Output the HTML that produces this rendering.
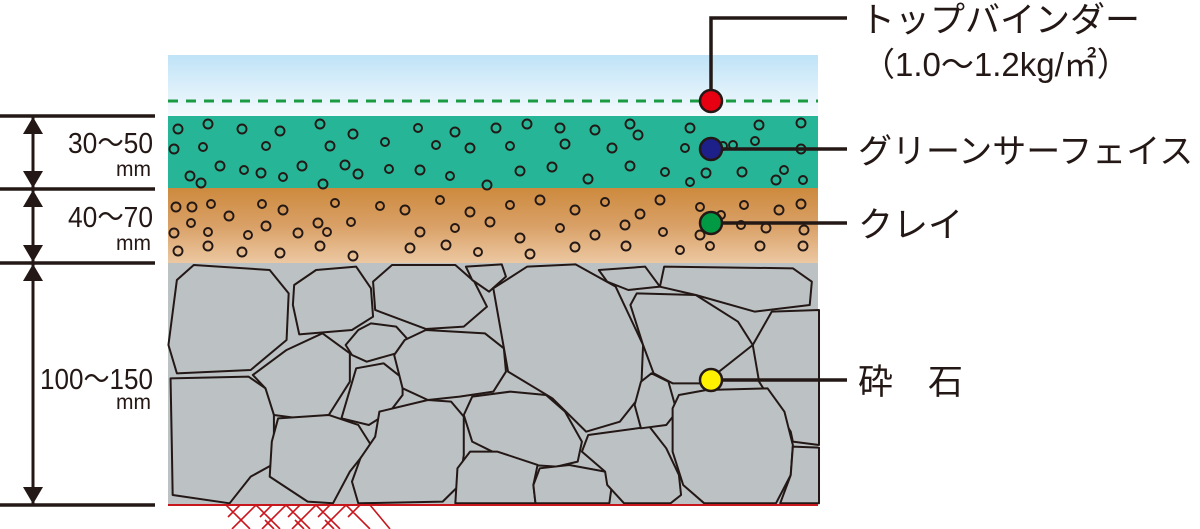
<!DOCTYPE html>
<html><head><meta charset="utf-8"><style>
html,body{margin:0;padding:0;background:#fff;width:1200px;height:529px;overflow:hidden}
svg{display:block}
.j{font-family:"Liberation Sans","Noto Sans CJK JP",sans-serif;fill:#231815}
</style></head><body>
<svg width="1200" height="529" viewBox="0 0 1200 529" xmlns="http://www.w3.org/2000/svg">
<defs>
<linearGradient id="sky" x1="0" y1="0" x2="0" y2="1"><stop offset="0" stop-color="#bfe3f7"/><stop offset="1" stop-color="#f4fafd"/></linearGradient>
<linearGradient id="clay" x1="0" y1="0" x2="0" y2="1"><stop offset="0" stop-color="#cd8a3e"/><stop offset="0.5" stop-color="#d9a066"/><stop offset="1" stop-color="#ecc8a2"/></linearGradient>
</defs>
<rect x="168" y="55" width="650" height="61" fill="url(#sky)"/>
<line x1="168" y1="101" x2="818" y2="101" stroke="#1a9a43" stroke-width="3" stroke-dasharray="10,8"/>
<rect x="168" y="116" width="650" height="72" fill="#26b596"/>
<rect x="168" y="188" width="650" height="75" fill="url(#clay)"/>
<rect x="168" y="263" width="650" height="242" fill="#bcc1c4"/>
<g fill="none" stroke="#231815" stroke-width="1.9">
<circle cx="178" cy="129" r="4.5"/><circle cx="208" cy="124" r="4.5"/><circle cx="242" cy="129" r="4.5"/><circle cx="280" cy="131" r="4.5"/><circle cx="320" cy="124" r="4.5"/><circle cx="353" cy="134" r="4.5"/><circle cx="385" cy="142" r="4"/><circle cx="174" cy="149" r="4.5"/><circle cx="203" cy="147" r="4"/><circle cx="266" cy="146" r="4"/><circle cx="330" cy="146" r="4.5"/><circle cx="389" cy="169" r="4"/><circle cx="220" cy="166" r="4.5"/><circle cx="244" cy="170" r="4"/><circle cx="261" cy="173" r="4.5"/><circle cx="283" cy="177" r="4"/><circle cx="302" cy="166" r="4.5"/><circle cx="345" cy="165" r="4.5"/><circle cx="358" cy="174" r="4.5"/><circle cx="190" cy="176" r="4.5"/><circle cx="201" cy="183" r="4.5"/><circle cx="323" cy="184" r="4.5"/><circle cx="418" cy="128" r="4"/><circle cx="455" cy="132" r="4.5"/><circle cx="496" cy="128" r="4.5"/><circle cx="527" cy="124" r="4.5"/><circle cx="560" cy="128" r="4.5"/><circle cx="595" cy="130" r="4.5"/><circle cx="630" cy="124" r="4.5"/><circle cx="638" cy="135" r="4.5"/><circle cx="690" cy="128" r="4.5"/><circle cx="759" cy="125" r="4.5"/><circle cx="801" cy="123" r="4.5"/><circle cx="436" cy="145" r="4"/><circle cx="470" cy="148" r="4.5"/><circle cx="510" cy="146" r="4"/><circle cx="565" cy="144" r="4.5"/><circle cx="612" cy="148" r="4.5"/><circle cx="685" cy="148" r="4"/><circle cx="733" cy="145" r="4"/><circle cx="755" cy="141" r="4"/><circle cx="801" cy="149" r="4.5"/><circle cx="420" cy="170" r="4.5"/><circle cx="450" cy="176" r="4"/><circle cx="487" cy="185" r="4.5"/><circle cx="520" cy="171" r="4.5"/><circle cx="552" cy="167" r="4.5"/><circle cx="588" cy="179" r="4.5"/><circle cx="630" cy="166" r="4.5"/><circle cx="665" cy="172" r="4"/><circle cx="706" cy="173" r="4.5"/><circle cx="742" cy="172" r="4.5"/><circle cx="784" cy="170" r="4"/><circle cx="723" cy="146" r="4"/><circle cx="776" cy="180" r="4.5"/><circle cx="803" cy="180" r="4"/><circle cx="690" cy="182" r="4"/>
<circle cx="176" cy="207" r="4.5"/><circle cx="192" cy="207" r="4.5"/><circle cx="211" cy="204" r="4"/><circle cx="229" cy="216" r="4.5"/><circle cx="262" cy="204" r="4"/><circle cx="283" cy="210" r="4.5"/><circle cx="335" cy="203" r="4"/><circle cx="351" cy="222" r="4"/><circle cx="174" cy="233" r="4.5"/><circle cx="191" cy="223" r="4"/><circle cx="208" cy="232" r="4"/><circle cx="248" cy="235" r="4"/><circle cx="266" cy="226" r="4.5"/><circle cx="298" cy="233" r="4.5"/><circle cx="318" cy="223" r="4.5"/><circle cx="327" cy="232" r="4"/><circle cx="178" cy="251" r="4.5"/><circle cx="208" cy="246" r="4.5"/><circle cx="242" cy="252" r="4.5"/><circle cx="280" cy="253" r="4.5"/><circle cx="320" cy="246" r="4.5"/><circle cx="353" cy="256" r="4.5"/><circle cx="380" cy="206" r="4"/><circle cx="405" cy="210" r="4.5"/><circle cx="440" cy="200" r="4"/><circle cx="470" cy="212" r="4.5"/><circle cx="510" cy="205" r="4"/><circle cx="540" cy="200" r="4.5"/><circle cx="575" cy="210" r="4.5"/><circle cx="605" cy="202" r="4"/><circle cx="640" cy="214" r="4.5"/><circle cx="660" cy="200" r="4.5"/><circle cx="700" cy="207" r="4"/><circle cx="744" cy="205" r="4"/><circle cx="779" cy="210" r="4.5"/><circle cx="801" cy="204" r="4.5"/><circle cx="420" cy="232" r="4.5"/><circle cx="455" cy="228" r="4"/><circle cx="490" cy="222" r="4.5"/><circle cx="520" cy="238" r="4.5"/><circle cx="560" cy="228" r="4"/><circle cx="595" cy="235" r="4.5"/><circle cx="625" cy="225" r="4.5"/><circle cx="663" cy="232" r="4"/><circle cx="741" cy="225" r="4"/><circle cx="766" cy="228" r="4.5"/><circle cx="804" cy="230" r="4.5"/><circle cx="410" cy="248" r="4.5"/><circle cx="446" cy="245" r="4.5"/><circle cx="478" cy="252" r="4"/><circle cx="530" cy="254" r="4.5"/><circle cx="575" cy="247" r="4.5"/><circle cx="626" cy="246" r="4.5"/><circle cx="680" cy="250" r="4"/><circle cx="710" cy="246" r="4"/><circle cx="760" cy="246" r="4.5"/><circle cx="803" cy="246" r="4.5"/><circle cx="700" cy="235" r="4.5"/><circle cx="721" cy="215" r="4"/>
</g>
<g transform="translate(160,255) scale(0.4219,0.3333)" fill="#bcc1c4" stroke="#231815" stroke-width="2" stroke-linejoin="round">
<polygon vector-effect="non-scaling-stroke" points="40,75 80,30 260,45 305,115 300,255 215,345 40,355 20,270"/>
<polygon vector-effect="non-scaling-stroke" points="318,90 370,45 465,35 500,100 505,185 455,225 330,238 315,150"/>
<polygon vector-effect="non-scaling-stroke" points="505,80 550,30 700,30 745,80 775,155 720,215 630,222 510,165"/>
<polygon vector-effect="non-scaling-stroke" points="725,35 810,28 820,65 780,110 740,75"/>
<polygon vector-effect="non-scaling-stroke" points="790,100 870,35 985,28 1080,95 1145,270 1140,420 1090,500 1010,530 930,430 825,350"/>
<polygon vector-effect="non-scaling-stroke" points="1040,45 1150,35 1185,95 1110,105 1060,80"/>
<polygon vector-effect="non-scaling-stroke" points="1195,35 1500,40 1545,80 1540,150 1410,170 1270,120 1185,95"/>
<polygon vector-effect="non-scaling-stroke" points="1130,115 1270,120 1370,200 1405,270 1290,385 1215,385 1170,355 1145,270 1115,150"/>
<polygon vector-effect="non-scaling-stroke" points="1450,170 1562,165 1562,570 1500,560 1495,530 1420,380 1405,270"/>
<polygon vector-effect="non-scaling-stroke" points="25,370 210,365 250,400 270,460 270,560 265,630 215,665 165,745 30,720 28,570"/>
<polygon vector-effect="non-scaling-stroke" points="220,360 300,285 385,235 450,295 450,380 400,480 330,490 270,480 250,400"/>
<polygon vector-effect="non-scaling-stroke" points="440,270 470,225 500,205 560,215 585,250 560,295 490,320 455,300"/>
<polygon vector-effect="non-scaling-stroke" points="465,340 530,325 575,370 575,420 545,470 495,510 430,490"/>
<polygon vector-effect="non-scaling-stroke" points="580,255 630,225 770,235 815,280 820,350 790,410 710,425 635,435 575,400 555,300"/>
<polygon vector-effect="non-scaling-stroke" points="280,490 400,480 470,510 500,570 450,650 410,745 350,740 260,665 265,560"/>
<polygon vector-effect="non-scaling-stroke" points="520,470 635,435 690,440 720,485 720,600 710,690 670,740 470,745 455,680 475,610 510,545"/>
<polygon vector-effect="non-scaling-stroke" points="720,480 740,425 830,410 915,420 960,470 1000,560 990,620 940,635 880,630 820,610 740,560"/>
<polygon vector-effect="non-scaling-stroke" points="735,590 800,590 895,630 885,690 890,745 700,745 705,640"/>
<polygon vector-effect="non-scaling-stroke" points="900,640 970,630 1055,650 1070,700 1065,745 890,745 885,690"/>
<polygon vector-effect="non-scaling-stroke" points="1015,540 1160,515 1200,580 1230,660 1235,720 1210,745 1100,745 1060,690 1055,650 1000,590"/>
<polygon vector-effect="non-scaling-stroke" points="1165,355 1205,380 1225,470 1200,510 1140,520 1125,450 1140,380"/>
<polygon vector-effect="non-scaling-stroke" points="1230,420 1295,405 1440,400 1480,470 1500,570 1495,660 1460,745 1290,745 1240,690 1215,590 1215,460"/>
<polygon vector-effect="non-scaling-stroke" points="1500,575 1562,578 1562,745 1470,745 1495,660"/>
</g>
<line x1="168" y1="505" x2="818" y2="505" stroke="#c8161d" stroke-width="2"/>
<g stroke="#c8161d" stroke-width="1.6" fill="none">
<path d="M226,505 L250,529 M240,505 L228,517 M256,505 L232,529 M256,505 L280,529 M272,505 L260,517 M286,505 L262,529 M286,505 L310,529 M300,505 L288,517 M316,505 L292,529 M316,505 L340,529 M330,505 L318,517 M346,505 L322,529 M346,505 L370,529 M360,505 L348,517 M370,505 L390,529 M265,520 L274,529 M295,520 L304,529 M325,520 L334,529"/>
</g>
<g stroke="#231815" stroke-width="3.5">
<line x1="0" y1="116" x2="155" y2="116"/><line x1="0" y1="189" x2="155" y2="189"/><line x1="0" y1="263" x2="155" y2="263"/><line x1="0" y1="505" x2="155" y2="505"/>
<line x1="33" y1="116" x2="33" y2="505" stroke-width="3"/>
</g>
<g fill="#231815">
<polygon points="33,117 23,134 43,134"/><polygon points="33,188 23,171 43,171"/>
<polygon points="33,190 23,207 43,207"/><polygon points="33,262 23,245 43,245"/>
<polygon points="33,264 23,281 43,281"/><polygon points="33,504 23,487 43,487"/>
</g>
<g class="j">
<text x="68" y="153" font-size="29" textLength="85" lengthAdjust="spacingAndGlyphs">30〜50</text><text x="116" y="176" font-size="21" textLength="35" lengthAdjust="spacingAndGlyphs">mm</text>
<text x="68" y="227" font-size="29" textLength="85" lengthAdjust="spacingAndGlyphs">40〜70</text><text x="116" y="250" font-size="21" textLength="35" lengthAdjust="spacingAndGlyphs">mm</text>
<text x="40" y="389" font-size="29" textLength="113" lengthAdjust="spacingAndGlyphs">100〜150</text><text x="116" y="409" font-size="21" textLength="35" lengthAdjust="spacingAndGlyphs">mm</text>
</g>
<g stroke="#231815" stroke-width="3.5" fill="none">
<polyline points="711,101 711,18 847,18"/>
<line x1="711" y1="149" x2="847" y2="149"/>
<line x1="711" y1="223" x2="847" y2="223"/>
<line x1="711" y1="380" x2="847" y2="380"/>
</g>
<g stroke="#231815" stroke-width="2.5">
<circle cx="711" cy="101" r="11" fill="#e60012"/>
<circle cx="711" cy="149" r="11" fill="#1d2088"/>
<circle cx="711" cy="223" r="11" fill="#009944"/>
<circle cx="711" cy="380" r="11" fill="#fff100"/>
</g>
<g class="j" font-size="35">
<text x="860" y="32">トップバインダー</text>
<text x="862" y="76" font-size="33">（1.0〜1.2kg/㎡）</text>
<text x="858" y="163" font-size="34">グリーンサーフェイス</text>
<text x="858" y="237">クレイ</text>
<text x="858" y="394">砕　石</text>
</g>
</svg>
</body></html>
